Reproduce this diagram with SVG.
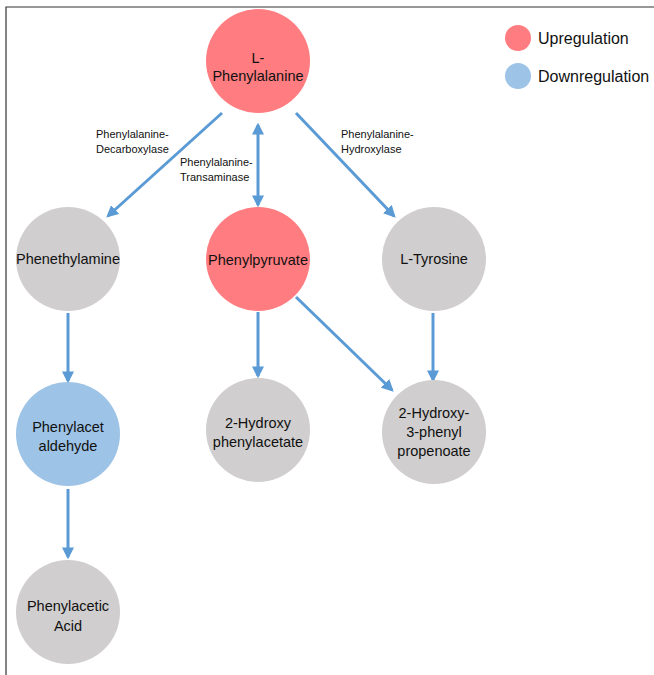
<svg xmlns="http://www.w3.org/2000/svg" width="654" height="675" viewBox="0 0 654 675">
<defs>
<style>
.up{fill:#FF7C80}.down{fill:#9DC3E6}.none{fill:#D0CECE}
.t{font-family:"Liberation Sans",Arial,sans-serif;font-size:14.5px;fill:#111;text-anchor:middle}
.e{font-family:"Liberation Sans",Arial,sans-serif;font-size:11px;fill:#111}
.lg{font-family:"Liberation Sans",Arial,sans-serif;font-size:16px;fill:#111}
.c{stroke:#5B9BD5;stroke-width:3;fill:none;marker-end:url(#ah)}
</style>
<marker id="ah" viewBox="0 0 10 10" refX="8" refY="5" markerWidth="4" markerHeight="4" orient="auto-start-reverse" markerUnits="strokeWidth">
<path d="M0,0 L10,5 L0,10 z" fill="#5B9BD5"/>
</marker>
</defs>
<rect width="654" height="675" fill="#fff"/>
<path d="M6,675 L6,7 L654,7" fill="none" stroke="#333" stroke-width="1.2"/>
<g id="connectors">
<line class="c" x1="222" y1="113" x2="108" y2="216"/>
<line class="c" x1="258" y1="125" x2="258" y2="205" marker-start="url(#ah)"/>
<line class="c" x1="296" y1="113" x2="394" y2="216"/>
<line class="c" x1="68" y1="313" x2="68" y2="381"/>
<line class="c" x1="258" y1="312" x2="258" y2="376"/>
<line class="c" x1="296" y1="297" x2="392" y2="390"/>
<line class="c" x1="433" y1="313" x2="433" y2="380"/>
<line class="c" x1="68" y1="489" x2="68" y2="557"/>
</g>
<g id="labels">
<text class="e" x="96" y="138">Phenylalanine-</text>
<text class="e" x="96" y="153">Decarboxylase</text>
<text class="e" x="180" y="166">Phenylalanine-</text>
<text class="e" x="180" y="181">Transaminase</text>
<text class="e" x="341" y="138">Phenylalanine-</text>
<text class="e" x="341" y="153">Hydroxylase</text>
</g>
<g id="n-phenylalanine"><circle class="up" cx="258" cy="61" r="52"/><text class="t" x="258" y="63">L-</text><text class="t" x="258" y="81">Phenylalanine</text></g>
<g id="n-phenethylamine"><circle class="none" cx="68" cy="259" r="52"/><text class="t" x="68" y="264">Phenethylamine</text></g>
<g id="n-phenylpyruvate"><circle class="up" cx="258" cy="259" r="52"/><text class="t" x="258" y="265">Phenylpyruvate</text></g>
<g id="n-tyrosine"><circle class="none" cx="434" cy="259" r="52"/><text class="t" x="434" y="264">L-Tyrosine</text></g>
<g id="n-phenylacetaldehyde"><circle class="down" cx="68" cy="434" r="52"/><text class="t" x="68" y="432">Phenylacet</text><text class="t" x="68" y="451">aldehyde</text></g>
<g id="n-hydroxyphenylacetate"><circle class="none" cx="258" cy="430" r="52"/><text class="t" x="258" y="428">2-Hydroxy</text><text class="t" x="258" y="447">phenylacetate</text></g>
<g id="n-hydroxyphenylpropenoate"><circle class="none" cx="434" cy="432" r="52"/><text class="t" x="434" y="418">2-Hydroxy-</text><text class="t" x="434" y="437">3-phenyl</text><text class="t" x="434" y="456">propenoate</text></g>
<g id="n-phenylaceticacid"><circle class="none" cx="68" cy="612" r="52"/><text class="t" x="68" y="611">Phenylacetic</text><text class="t" x="68" y="631">Acid</text></g>
<g id="legend">
<circle class="up" cx="518" cy="38" r="13"/><text class="lg" x="538" y="44">Upregulation</text>
<circle class="down" cx="518" cy="76" r="13"/><text class="lg" x="538" y="82">Downregulation</text>
</g>
</svg>
